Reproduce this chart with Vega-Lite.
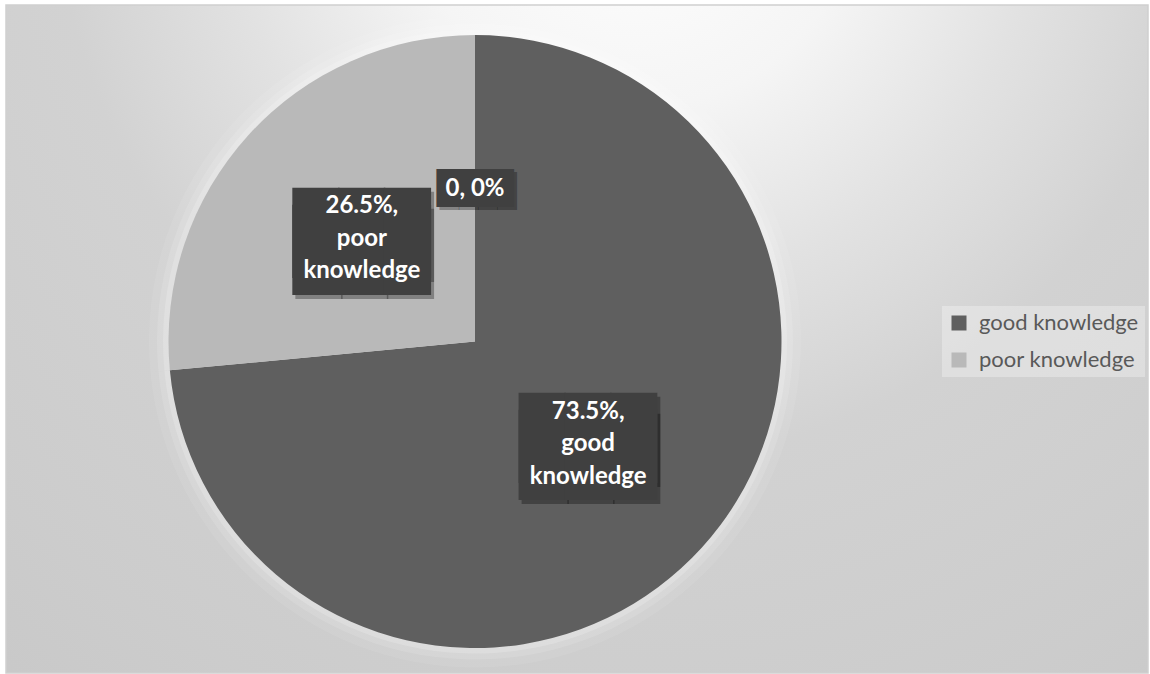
{
  "$schema": "https://vega.github.io/schema/vega-lite/v6.json",
  "width": 1142,
  "height": 668,
  "autosize": {"type": "none"},
  "padding": {"left": 6, "top": 5, "right": 2, "bottom": 1},
  "background": "#ffffff",
  "config": {
    "view": {
      "stroke": "#d0d0d0",
      "strokeWidth": 1.5,
      "fill": {
        "gradient": "radial",
        "x1": 0.55, "y1": 0.1, "r1": 0,
        "x2": 0.55, "y2": 0.1, "r2": 1.1,
        "stops": [
          {"offset": 0, "color": "#ffffff"},
          {"offset": 0.18, "color": "#f5f5f5"},
          {"offset": 0.32, "color": "#e2e2e2"},
          {"offset": 0.46, "color": "#d2d2d2"},
          {"offset": 0.7, "color": "#cccccc"},
          {"offset": 1, "color": "#c3c3c3"}
        ]
      }
    }
  },
  "data": {
    "values": [
      {"category": "0", "value": 0, "label": "0, 0%"},
      {"category": "good knowledge", "value": 73.5, "label": "73.5%,\ngood\nknowledge"},
      {"category": "poor knowledge", "value": 26.5, "label": "26.5%,\npoor\nknowledge"}
    ]
  },
  "encoding": {
    "theta": {"field": "value", "type": "quantitative", "stack": true},
    "order": {"field": "category", "type": "ordinal", "sort": "ascending"},
    "x": {"value": 469},
    "y": {"value": 336.5}
  },
  "layer": [
    {
      "mark": {"type": "arc", "radius": 326, "fill": "#ffffff", "opacity": 0.08, "strokeWidth": 0},
      "encoding": {"detail": {"field": "category"}}
    },
    {
      "mark": {"type": "arc", "radius": 318, "fill": "#ffffff", "opacity": 0.12, "strokeWidth": 0},
      "encoding": {"detail": {"field": "category"}}
    },
    {
      "mark": {"type": "arc", "radius": 312, "fill": "#ffffff", "opacity": 0.18, "strokeWidth": 0},
      "encoding": {"detail": {"field": "category"}}
    },
    {
      "transform": [{"filter": "datum.category !== '0'"}],
      "mark": {"type": "arc", "radius": 306.5, "strokeWidth": 0},
      "encoding": {
        "color": {
          "field": "category",
          "type": "nominal",
          "scale": {"domain": ["good knowledge", "poor knowledge"], "range": ["#5f5f5f", "#b9b9b9"]},
          "legend": {
            "orient": "none",
            "legendX": 936,
            "legendY": 301,
            "title": null,
            "symbolType": "square",
            "symbolSize": 225,
            "symbolStrokeWidth": 0,
            "labelFont": "Lato",
            "labelFontSize": 22,
            "labelColor": "#595959",
            "labelLimit": 300,
            "labelOffset": 9,
            "rowPadding": 15,
            "padding": 6,
            "fillColor": "rgba(255,255,255,0.3)"
          }
        }
      }
    },
    {
      "mark": {"type": "text", "font": "DejaVu Sans Mono", "fontSize": 76, "lineHeight": 17, "fill": "rgba(0,0,0,0.3)", "dx": 3, "dy": 1, "radius": 153},
      "encoding": {
        "detail": {"field": "category"},
        "text": {"value": ["███", "███"]},
        "opacity": {"condition": {"test": "datum.category === '0'", "value": 0}, "value": 1}
      }
    },
    {
      "mark": {"type": "text", "font": "DejaVu Sans Mono", "fontSize": 76, "lineHeight": 17, "fill": "#404040", "dy": -3, "radius": 153},
      "encoding": {
        "detail": {"field": "category"},
        "text": {"value": ["███", "███"]},
        "opacity": {"condition": {"test": "datum.category === '0'", "value": 0}, "value": 1}
      }
    },
    {
      "mark": {"type": "text", "font": "DejaVu Sans Mono", "fontSize": 32, "fill": "rgba(0,0,0,0.3)", "dx": 3, "dy": 3, "radius": 153},
      "encoding": {
        "detail": {"field": "category"},
        "text": {"value": "████"},
        "opacity": {"condition": {"test": "datum.category === '0'", "value": 1}, "value": 0}
      }
    },
    {
      "mark": {"type": "text", "font": "DejaVu Sans Mono", "fontSize": 32, "fill": "#404040", "radius": 153},
      "encoding": {
        "detail": {"field": "category"},
        "text": {"value": "████"},
        "opacity": {"condition": {"test": "datum.category === '0'", "value": 1}, "value": 0}
      }
    },
    {
      "mark": {"type": "text", "font": "Lato", "fontWeight": "bold", "fontSize": 24, "lineHeight": 32.5, "lineBreak": "\n", "fill": "#ffffff", "dy": -32.5, "radius": 153},
      "encoding": {
        "detail": {"field": "category"},
        "text": {"field": "label"},
        "opacity": {"condition": {"test": "datum.category === '0'", "value": 0}, "value": 1}
      }
    },
    {
      "mark": {"type": "text", "font": "Lato", "fontWeight": "bold", "fontSize": 24, "fill": "#ffffff", "radius": 153},
      "encoding": {
        "detail": {"field": "category"},
        "text": {"field": "label"},
        "opacity": {"condition": {"test": "datum.category === '0'", "value": 1}, "value": 0}
      }
    }
  ]
}
